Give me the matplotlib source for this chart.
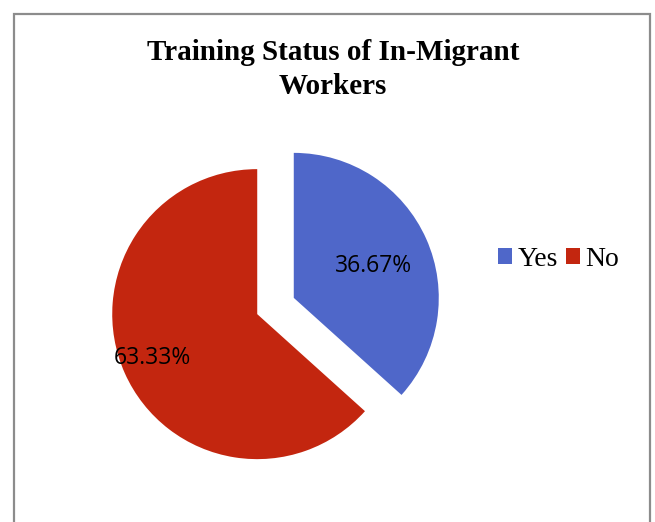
import numpy as np
import matplotlib.pyplot as plt
from matplotlib.patches import Rectangle

# data
labels = ["Yes", "No"]
shares = [36.67, 63.33]
colors = ["#4F67C9", "#C3260F"]

fig = plt.figure(figsize=(6.55, 5.22), dpi=100)
ax = fig.add_axes([0, 0, 1, 1])
ax.set_xlim(0, 655)
ax.set_ylim(0, 522)
ax.set_aspect("equal")
ax.axis("off")

# chart frame (open at the bottom, as in the cropped original)
ax.add_patch(Rectangle((13.5, -20), 636, 522 - 13.5 + 20, fill=False,
                       edgecolor="#8c8c8c", linewidth=1.6))

R = 145
wedges, texts, autotexts = ax.pie(
    shares, colors=colors, startangle=90, counterclock=False,
    explode=[20, 20], center=(275.5, 216), radius=R,
    autopct="%.2f%%", pctdistance=0.6,
    wedgeprops=dict(linewidth=0),
    textprops=dict(family="Open Sans", fontsize=16.5, color="black"),
)
ax.set_xlim(0, 655)
ax.set_ylim(0, 522)

# move the percentage labels roughly where the original puts them
dist = [0.6, 0.79]
nudge = [-4, 3]
for w, t, d, n in zip(wedges, autotexts, dist, nudge):
    ang = np.deg2rad((w.theta1 + w.theta2) / 2)
    cx, cy = w.center
    t.set_position((cx + d * R * np.cos(ang), cy + d * R * np.sin(ang) + n))

ax.text(333, 522 - 53, "Training Status of In-Migrant", ha="center", va="center",
        family="Liberation Serif", fontweight="bold", fontsize=21)
ax.text(333, 522 - 87, "Workers", ha="center", va="center",
        family="Liberation Serif", fontweight="bold", fontsize=21)

ax.legend(wedges, labels, loc="center left", bbox_to_anchor=(498 / 655, 1 - 259 / 522),
          ncol=2, frameon=False, prop=dict(family="Liberation Serif", size=20),
          handlelength=0.5, handleheight=0.5, handletextpad=0.2, columnspacing=0.3,
          borderaxespad=0, borderpad=0)

fig.savefig("out.png", dpi=100)
